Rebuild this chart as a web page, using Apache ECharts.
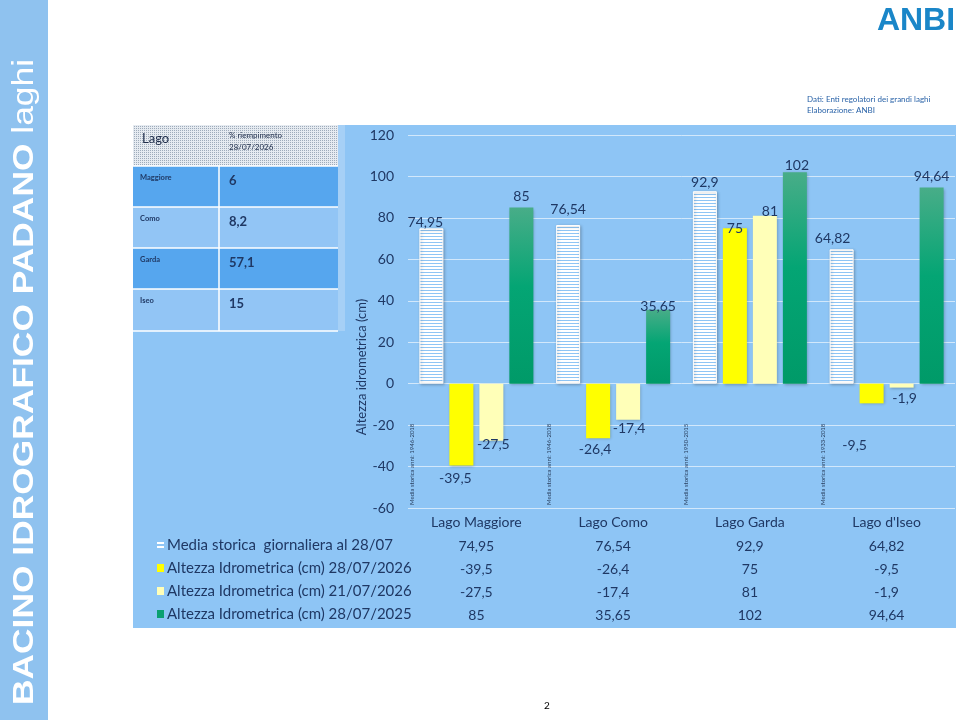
<!DOCTYPE html>
<html>
<head>
<meta charset="utf-8">
<script src="https://cdn.jsdelivr.net/npm/echarts@6/dist/echarts.min.js"></script>
<style>
  html,body{margin:0;padding:0;background:#fff;}
  #c{width:960px;height:720px;}
</style>
</head>
<body>
<div id="c"></div>
<script>
// lake levels vs historical mean
var categories = ["Lago Maggiore", "Lago Como", "Lago Garda", "Lago d'Iseo"];
var mediaStorica = [74.95, 76.54, 92.9, 64.82];
var alt280726 = [-39.5, -26.4, 75, -9.5];
var alt210726 = [-27.5, -17.4, 81, -1.9];
var alt280725 = [85, 35.65, 102, 94.64];
var seriesNames = [
  "Media storica  giornaliera al 28/07",
  "Altezza Idrometrica (cm) 28/07/2026",
  "Altezza Idrometrica (cm) 21/07/2026",
  "Altezza Idrometrica (cm) 28/07/2025"
];
var periodLabels = [
  "Media storica anni: 1946-2018",
  "Media storica anni: 1946-2018",
  "Media storica anni: 1950-2015",
  "Media storica anni: 1933-2018"
];
var tableLakes = ["Maggiore", "Como", "Garda", "Iseo"];
var fillPct = ["6", "8,2", "57,1", "15"];
var yMin = -60, yMax = 120, yStep = 20;

// label nudges per series / category (style only)
var nudge = [
  [[-6,5],[0,-5],[0,2],[-9,0]],
  [[-6,2],[-3,0],[0,11],[-17,31]],
  [[2,-7],[1,-2],[5,7],[3,0]],
  [[0,0],[0,8],[2,4],[0,0]]
];

var NAVY = "#1f3864", BG = "#8ec5f5", FONT = "Lato, 'Open Sans', sans-serif";
function fmt(v){ return String(v).replace(".", ","); }

// striped pattern for historical mean
var stripe = document.createElement("canvas");
stripe.width = 4; stripe.height = 3;
var sc = stripe.getContext("2d");
sc.fillStyle = BG; sc.fillRect(0,0,4,3);
sc.fillStyle = "#ffffff"; sc.fillRect(0,0,4,2);
// dotted pattern for table header
var dots = document.createElement("canvas");
dots.width = 2; dots.height = 2;
var dc = dots.getContext("2d");
dc.fillStyle = "#e6ebf1"; dc.fillRect(0,0,2,2);
dc.fillStyle = "#9eabba"; dc.fillRect(0,0,1,1);

var greenGrad = {type:"linear", x:0, y:0, x2:0, y2:1, colorStops:[
  {offset:0, color:"#48ad88"}, {offset:0.45, color:"#04a574"}, {offset:1, color:"#009a68"}]};
var fills = [{image:stripe, repeat:"repeat"}, "#ffff00", "#ffffb8", greenGrad];
var keyFills = ["#ffffff", "#ffff00", "#ffffb8", "#0aa070"];
var allSeries = [mediaStorica, alt280726, alt210726, alt280725];

var chart = echarts.init(document.getElementById("c"), null, {renderer:"canvas"});

var series = allSeries.map(function(arr, si){
  return {
    type:"bar", name:seriesNames[si], xAxisIndex:0, yAxisIndex:0,
    barWidth:24, barGap:"25%",
    data: arr.map(function(v, ci){
      return { value:v, label:{ position: v < 0 ? "bottom" : "top", offset:nudge[si][ci] } };
    }),
    itemStyle:{
      color:fills[si],
      borderColor: si === 0 ? "#ffffff" : "transparent", borderWidth: si === 0 ? 1 : 0,
      shadowBlur:3, shadowColor:"rgba(0,0,0,0.25)", shadowOffsetX:1, shadowOffsetY:1
    },
    label:{ show:true, distance:4, color:NAVY, fontSize:14, fontFamily:FONT,
      formatter:function(p){ return fmt(p.value); } },
    emphasis:{disabled:true},
    z:3
  };
});

var rowOffsets = [24, 47, 70, 93];
var xAxes = [{
  type:"category", data:categories, gridIndex:0, position:"bottom",
  axisLine:{show:false}, axisTick:{show:false}, splitLine:{show:false},
  axisLabel:{color:NAVY, fontSize:14, fontFamily:FONT, margin:7}
}].concat(allSeries.map(function(arr, i){
  return {
    type:"category", data:arr.map(fmt), gridIndex:0, position:"bottom", offset:rowOffsets[i],
    axisLine:{show:false}, axisTick:{show:false}, splitLine:{show:false},
    axisLabel:{color:NAVY, fontSize:14, fontFamily:FONT, margin:7}
  };
}));

function staticGraphics(){
  var g = [];
  // sidebar
  g.push({type:"rect", z:-10, shape:{x:0, y:0, width:48, height:720}, style:{fill:"#8fc2ef"}});
  g.push({type:"text", x:25, y:382, rotation:Math.PI/2, scaleX:1.22, z:5,
    style:{text:"{b|BACINO IDROGRAFICO PADANO }{n|laghi}", align:"center", verticalAlign:"middle",
      rich:{ b:{fontFamily:"'Liberation Sans', Arial, sans-serif", fontWeight:"bold", fontSize:29, fill:"#ffffff"},
             n:{fontFamily:"'Liberation Sans', Arial, sans-serif", fontSize:29, fill:"#ffffff"} } }});
  // chart panel
  g.push({type:"rect", z:-10, shape:{x:133, y:125, width:823, height:503}, style:{fill:BG}});
  // top-left table
  g.push({type:"rect", z:-5, shape:{x:133, y:125, width:205, height:41}, style:{fill:{image:dots, repeat:"repeat"}}});
  g.push({type:"text", x:142, y:139, z:5, style:{text:"Lago", fill:"#1f2d4a", font:"13px " + FONT, verticalAlign:"middle"}});
  g.push({type:"text", x:229, y:135, z:5, style:{text:"% riempimento", fill:"#1f2d4a", font:"8px " + FONT, verticalAlign:"middle"}});
  g.push({type:"text", x:229, y:147, z:5, style:{text:"28/07/2026", fill:"#1f2d4a", font:"8px " + FONT, verticalAlign:"middle"}});
  var rowY = [166, 207, 248, 289, 331];
  tableLakes.forEach(function(name, i){
    var y0 = rowY[i], y1 = rowY[i+1];
    g.push({type:"rect", z:-5, shape:{x:133, y:y0, width:205, height:y1-y0},
      style:{fill: i % 2 === 0 ? "#56a6ee" : "#92c5f5"}});
    g.push({type:"text", x:140, y:y0+12, z:5, style:{text:name, fill:NAVY, font:"bold 7.5px " + FONT, verticalAlign:"middle"}});
    g.push({type:"text", x:229, y:y0+15, z:5, style:{text:fillPct[i], fill:NAVY, font:"bold 13px " + FONT, verticalAlign:"middle"}});
  });
  rowY.forEach(function(y){
    g.push({type:"line", z:-4, shape:{x1:133, y1:y, x2:338, y2:y}, style:{stroke:"#ffffff", lineWidth:1.5}});
  });
  g.push({type:"line", z:-4, shape:{x1:219, y1:166, x2:219, y2:331}, style:{stroke:"#ffffff", lineWidth:1.5}});
  g.push({type:"rect", z:-6, shape:{x:338, y:125, width:7, height:206}, style:{fill:"#a6d0f6"}});
  // y axis title
  g.push({type:"text", x:362, y:367, rotation:Math.PI/2, z:5,
    style:{text:"Altezza idrometrica (cm)", fill:NAVY, font:"13px " + FONT, align:"center", verticalAlign:"middle"}});
  // data table legend
  var rowCy = [545, 568, 591, 614];
  seriesNames.forEach(function(name, i){
    if(i === 0){
      g.push({type:"rect", z:5, shape:{x:157, y:rowCy[i]-3, width:7, height:2}, style:{fill:"#ffffff"}});
      g.push({type:"rect", z:5, shape:{x:157, y:rowCy[i]+1, width:7, height:2}, style:{fill:"#ffffff"}});
    } else {
      g.push({type:"rect", z:5, shape:{x:157, y:rowCy[i]-4, width:7, height:8}, style:{fill:keyFills[i]}});
    }
    g.push({type:"text", x:167, y:rowCy[i], z:5,
      style:{text:name, fill:NAVY, font:"15px " + FONT, verticalAlign:"middle"}});
  });
  // source note, logo, page number
  g.push({type:"text", x:807, y:99, z:5, style:{text:"Dati: Enti regolatori dei grandi laghi", fill:"#2a63a8", font:"8px " + FONT, verticalAlign:"middle"}});
  g.push({type:"text", x:807, y:110, z:5, style:{text:"Elaborazione: ANBI", fill:"#2a63a8", font:"8px " + FONT, verticalAlign:"middle"}});
  g.push({type:"text", x:916, y:21, z:5, style:{text:"ANBI", fill:"#1a86c8", font:"bold 32px 'Liberation Sans', Arial, sans-serif", align:"center", verticalAlign:"middle"}});
  g.push({type:"text", x:547, y:706, z:5, style:{text:"2", fill:"#000000", font:"10px " + FONT, align:"center", verticalAlign:"middle"}});
  return g;
}

chart.setOption({
  animation:false,
  backgroundColor:"#ffffff",
  grid:{left:408, right:5, top:135, bottom:212, containLabel:false},
  xAxis:xAxes,
  yAxis:{
    type:"value", min:yMin, max:yMax, interval:yStep,
    axisLine:{show:false}, axisTick:{show:false},
    axisLabel:{color:NAVY, fontSize:14, fontFamily:FONT, margin:14},
    splitLine:{lineStyle:{color:"rgba(255,255,255,0.6)", width:1}}
  },
  series:series,
  graphic:{elements:staticGraphics()}
});

// rotated period notes beside each striped bar, placed through the category axis
var notes = periodLabels.map(function(t, i){
  var cx = chart.convertToPixel({xAxisIndex:0}, i);
  return {type:"text", x:cx-64, y:505, rotation:Math.PI/2, z:5,
    style:{text:t, fill:"#2a4060", font:"6px " + FONT, align:"left", verticalAlign:"middle"}};
});
chart.setOption({graphic:{elements:staticGraphics().concat(notes)}});
</script>
</body>
</html>
